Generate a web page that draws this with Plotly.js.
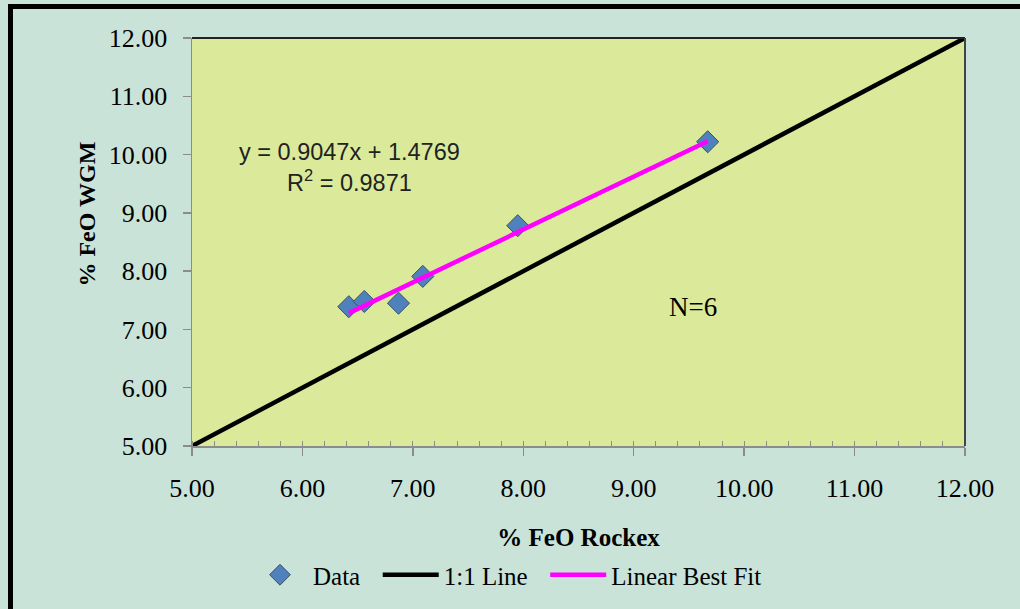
<!DOCTYPE html>
<html>
<head>
<meta charset="utf-8">
<script src="https://cdn.plot.ly/plotly-3.0.1.min.js"></script>
<style>
  html, body { margin: 0; padding: 0; background: #C9E3D9; }
  #chart { width: 1020px; height: 609px; }
</style>
</head>
<body>
<div id="chart"></div>
<script>
// Data
const rockexFeO = [6.42, 6.56, 6.87, 7.09, 7.95, 9.67];
const wgmFeO    = [7.39, 7.48, 7.45, 7.91, 8.78, 10.22];

const oneToOneX = [5, 12];
const oneToOneY = [5, 12];

const fitX = [6.42, 9.67];
const fitY = [7.28, 10.23];

const tickVals   = [5, 6, 7, 8, 9, 10, 11, 12];
const tickLabels = ["5.00", "6.00", "7.00", "8.00", "9.00", "10.00", "11.00", "12.00"];

const seriesNames = ["Data", "1:1 Line", "Linear Best Fit"];
const equationText = "y = 0.9047x + 1.4769<br>R<sup>2</sup> = 0.9871";
const countText = "N=6";

const serif = "Liberation Serif, Times New Roman, serif";
const sans = "Liberation Sans, Arial, sans-serif";
const pad = "\u00a0\u00a0"; // spacing after legend labels

const traces = [
  {
    x: rockexFeO, y: wgmFeO, type: "scatter", mode: "markers", name: seriesNames[0] + pad,
    marker: { symbol: "diamond", size: 17, color: "#4F81BD", line: { color: "#3B4E63", width: 1 } }
  },
  {
    x: oneToOneX, y: oneToOneY, type: "scatter", mode: "lines", name: seriesNames[1] + pad,
    line: { color: "#000000", width: 4.5 }
  },
  {
    x: fitX, y: fitY, type: "scatter", mode: "lines", name: seriesNames[2],
    line: { color: "#FF00FF", width: 4.5 }
  }
];

const L = 192, R = 55, T = 38, B = 162;
const PW = 1020 - L - R, PH = 609 - T - B;
const px2x = p => (p - L) / PW;
const py2y = p => (609 - B - p) / PH;

const layout = {
  width: 1020, height: 609,
  paper_bgcolor: "#C9E3D9",
  plot_bgcolor: "#DAEA9A",
  margin: { l: L, r: R, t: T, b: B },
  showlegend: true,
  legend: {
    orientation: "h", x: px2x(247), xanchor: "left", y: py2y(575), yanchor: "middle",
    font: { family: serif, size: 25, color: "#000" },
    itemwidth: 56,
    bgcolor: "rgba(0,0,0,0)"
  },
  xaxis: {
    range: [5, 12], tickvals: tickVals, ticktext: tickLabels,
    showgrid: false, zeroline: false,
    showline: true, linecolor: "#8C8C8C", linewidth: 1.5,
    ticks: "outside", ticklen: 8, tickcolor: "#8C8C8C", tickwidth: 1.5,
    ticklabelstandoff: 10,
    minor: { dtick: 0.2, ticks: "inside", ticklen: 5, tickcolor: "#8C8C8C", tickwidth: 1 },
    tickfont: { family: serif, size: 26, color: "#000" },
    title: { text: "<b>% FeO Rockex</b>", font: { family: serif, size: 25, color: "#000" }, standoff: 27 },
    automargin: false
  },
  yaxis: {
    range: [5, 12], tickvals: tickVals, ticktext: tickLabels,
    showgrid: false, zeroline: false,
    showline: true, linecolor: "#8C8C8C", linewidth: 1.5,
    ticks: "outside", ticklen: 8, tickcolor: "#8C8C8C", tickwidth: 1.5,
    ticklabelstandoff: 10,
    tickfont: { family: serif, size: 26, color: "#000" },
    automargin: false
  },
  shapes: [
    // top and right borders of plot area
    { type: "line", xref: "paper", yref: "paper", x0: 0, x1: 1, y0: 1, y1: 1, line: { color: "#222", width: 2 } },
    { type: "line", xref: "paper", yref: "paper", x0: 1, x1: 1, y0: 0, y1: 1, line: { color: "#444", width: 2 } },
    // outer chart frame (left and top)
    { type: "line", xref: "paper", yref: "paper", x0: px2x(10.5), x1: px2x(10.5), y0: py2y(6), y1: py2y(612), line: { color: "#000", width: 5 } },
    { type: "line", xref: "paper", yref: "paper", x0: px2x(8), x1: px2x(1022), y0: py2y(6.5), y1: py2y(6.5), line: { color: "#000", width: 5 } }
  ],
  annotations: [
    {
      x: 6.43, y: 9.77, xref: "x", yref: "y", text: equationText, showarrow: false,
      font: { family: sans, size: 23.5, color: "#222" }, align: "center"
    },
    {
      x: 9.54, y: 7.39, xref: "x", yref: "y", text: countText, showarrow: false,
      font: { family: serif, size: 27, color: "#000" }
    },
    {
      x: px2x(72), y: py2y(215), xref: "paper", yref: "paper", text: "<b>% FeO WGM</b>",
      textangle: -90, showarrow: false, font: { family: serif, size: 24, color: "#000" }
    }
  ]
};

Plotly.newPlot("chart", traces, layout, { displayModeBar: false, staticPlot: true });
</script>
</body>
</html>
